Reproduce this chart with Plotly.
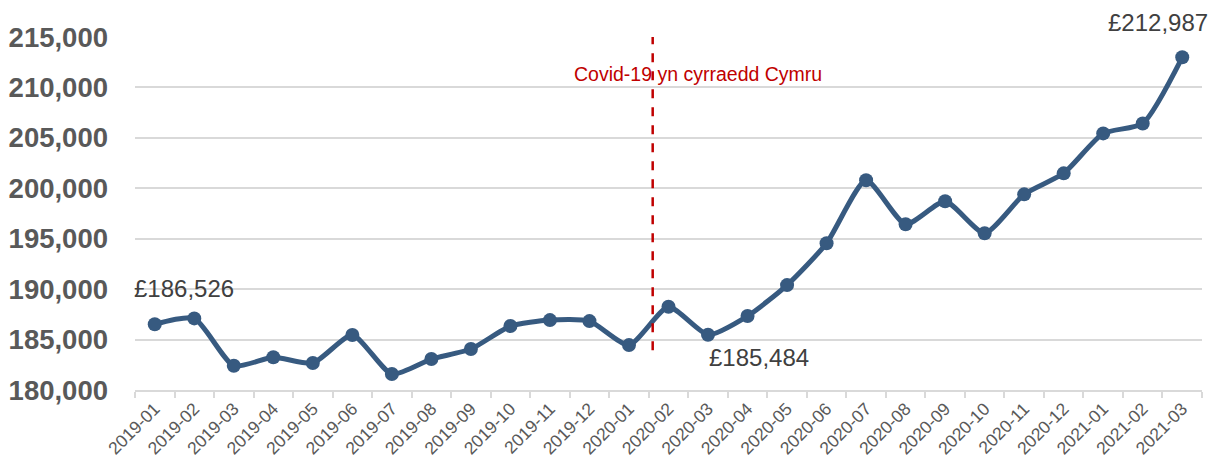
import plotly.graph_objects as go

months = ["2019-01","2019-02","2019-03","2019-04","2019-05","2019-06","2019-07","2019-08",
          "2019-09","2019-10","2019-11","2019-12","2020-01","2020-02","2020-03","2020-04",
          "2020-05","2020-06","2020-07","2020-08","2020-09","2020-10","2020-11","2020-12",
          "2021-01","2021-02","2021-03"]
prices = [186526, 187100, 182400, 183240, 182670, 185450, 181580, 183070,
          184060, 186340, 186930, 186830, 184450, 188250, 185484, 187330,
          190400, 194550, 200790, 196430, 198710, 195540, 199400, 201480,
          205440, 206430, 212987]
y_ticks = [180000, 185000, 190000, 195000, 200000, 205000, 210000, 215000]
covid_label = "Covid-19 yn cyrraedd Cymru"
covid_pos = 12.6

line_col = "#375A80"
grid_col = "#D9D9D9"
txt_col = "#595959"

fig = go.Figure()
fig.add_trace(go.Scatter(
    x=months, y=prices, mode="lines+markers",
    line=dict(color=line_col, width=5, shape="spline", smoothing=0.6),
    marker=dict(color=line_col, size=14),
    hoverinfo="x+y", showlegend=False,
))

fig.add_shape(type="line", xref="x", yref="y", x0=covid_pos, x1=covid_pos,
              y0=183950, y1=215000,
              line=dict(color="#C00000", width=2.5, dash="dash"))

ann_font = dict(family="Liberation Sans, Arial", size=24, color="#404040")
fig.add_annotation(x=months[0], y=prices[0], text="£{:,}".format(prices[0]),
                   showarrow=False, xshift=29, yshift=36, font=ann_font)
fig.add_annotation(x=months[14], y=prices[14], text="£{:,}".format(prices[14]),
                   showarrow=False, xshift=51, yshift=-23, font=ann_font)
fig.add_annotation(x=months[-1], y=prices[-1], text="£{:,}".format(prices[-1]),
                   showarrow=False, xshift=-24, yshift=35, font=ann_font)
fig.add_annotation(x=covid_pos, xref="x", y=0.932, yref="paper", text=covid_label,
                   showarrow=False, xshift=45,
                   font=dict(family="Liberation Sans, Arial", size=19.5, color="#C00000"))

fig.update_layout(
    width=1209, height=454,
    margin=dict(l=127, r=15, t=29, b=72),
    plot_bgcolor="white", paper_bgcolor="white",
    xaxis=dict(type="category", range=[-0.5, 26.5], tickangle=-45, automargin=False,
               tickson="boundaries", ticks="outside", ticklen=6, tickwidth=1.5,
               tickcolor=grid_col, showline=True, linecolor=grid_col, linewidth=1.5,
               showgrid=False,
               tickfont=dict(family="Liberation Sans, Arial", size=17.5, color=txt_col)),
    yaxis=dict(range=[180000, 215000], tickvals=y_ticks, automargin=False,
               tickformat=",d", showgrid=True, gridcolor=grid_col, gridwidth=1.5,
               zeroline=False, showline=False, ticks="", ticklabelstandoff=26,
               tickfont=dict(family="Liberation Sans, Arial", size=27.5, color=txt_col,
                             weight="bold")),
)

fig.write_html("out.html")
